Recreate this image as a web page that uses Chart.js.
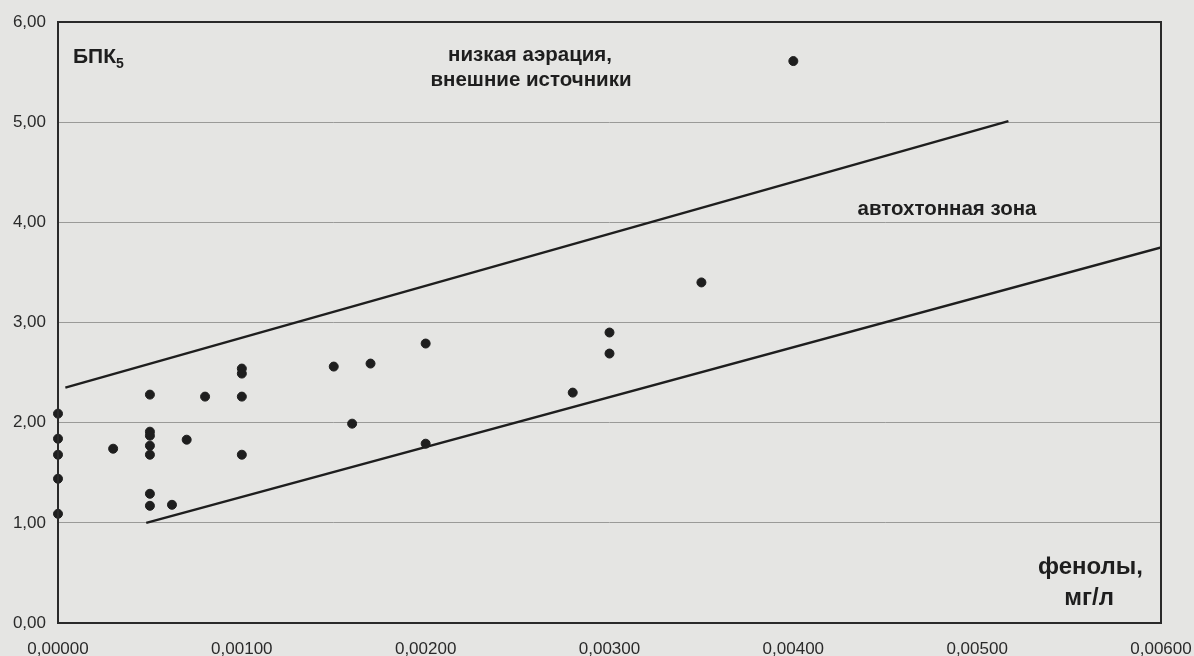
<!DOCTYPE html>
<html>
<head>
<meta charset="utf-8">
<script src="https://cdn.jsdelivr.net/npm/chart.js@4.4.1/dist/chart.umd.min.js"></script>
<style>
  html, body { margin: 0; padding: 0; background: #e5e5e3; }
  #wrap { width: 1194px; height: 656px; }
</style>
</head>
<body>
<div id="wrap"><canvas id="myChart"></canvas></div>
<script>
// фенолы, мг/л
var xValues = [0, 0, 0, 0, 0, 0.0003, 0.0005, 0.0005, 0.0005, 0.0005, 0.0005, 0.0005, 0.0005,
  0.00062, 0.0007, 0.0008, 0.001, 0.001, 0.001, 0.001, 0.0015, 0.0016, 0.0017,
  0.002, 0.002, 0.0028, 0.003, 0.003, 0.0035, 0.004];
// БПК5
var yValues = [2.09, 1.84, 1.68, 1.44, 1.09, 1.74, 2.28, 1.91, 1.87, 1.77, 1.68, 1.29, 1.17,
  1.18, 1.83, 2.26, 2.54, 2.49, 2.26, 1.68, 2.56, 1.99, 2.59,
  2.79, 1.79, 2.30, 2.90, 2.69, 3.40, 5.61];

// граничные линии
var upperX = [0.00004, 0.00517];
var upperY = [2.35, 5.01];
var lowerX = [0.00048, 0.006];
var lowerY = [1.00, 3.75];

var yTicks = [0, 1, 2, 3, 4, 5, 6];
var xTicks = [0, 0.001, 0.002, 0.003, 0.004, 0.005, 0.006];

function toPts(xs, ys) {
  return xs.map(function (x, i) { return {x: x, y: ys[i]}; });
}

var FONT = '"Liberation Sans", Arial, sans-serif';

var labelsPlugin = {
  id: 'labels',
  afterDraw: function (chart) {
    var ctx = chart.ctx;
    var a = chart.chartArea;
    ctx.save();
    // рамка
    ctx.strokeStyle = '#2a2a2a';
    ctx.lineWidth = 2;
    ctx.strokeRect(a.left, a.top, a.right - a.left, a.bottom - a.top);

    ctx.fillStyle = '#1e1e1e';
    ctx.font = 'bold 21px ' + FONT;
    ctx.textBaseline = 'middle';
    ctx.textAlign = 'left';
    ctx.fillText('БПК', 73, 57);
    var w = ctx.measureText('БПК').width;
    ctx.font = 'bold 14px ' + FONT;
    ctx.fillText('5', 73 + w, 64);

    ctx.font = 'bold 20.5px ' + FONT;
    ctx.textAlign = 'center';
    ctx.fillText('низкая аэрация,', 530, 55);
    ctx.fillText('внешние источники', 531, 80);
    ctx.fillText('автохтонная зона', 947, 209);
    ctx.font = 'bold 24px ' + FONT;
    ctx.textAlign = 'right';
    ctx.fillText('фенолы,', 1143, 567);
    ctx.fillText('мг/л', 1114, 598);
    ctx.restore();
  }
};

new Chart('myChart', {
  type: 'scatter',
  data: {
    datasets: [{
      data: toPts(xValues, yValues),
      backgroundColor: '#1e1e1e',
      borderColor: '#1e1e1e',
      pointRadius: 4.5,
      clip: false
    }, {
      type: 'line',
      data: toPts(upperX, upperY),
      borderColor: '#1e1e1e',
      borderWidth: 2.5,
      pointRadius: 0,
      fill: false
    }, {
      type: 'line',
      data: toPts(lowerX, lowerY),
      borderColor: '#1e1e1e',
      borderWidth: 2.5,
      pointRadius: 0,
      fill: false
    }]
  },
  options: {
    responsive: true,
    maintainAspectRatio: false,
    animation: false,
    layout: {padding: {top: 22, right: 33, left: 0, bottom: 0}},
    plugins: {legend: {display: false}, tooltip: {enabled: false}},
    scales: {
      x: {
        type: 'linear',
        min: 0,
        max: 0.006,
        afterBuildTicks: function (s) { s.ticks = xTicks.map(function (v) { return {value: v}; }); },
        afterFit: function (s) { s.height = 33; s.paddingLeft = 0; s.paddingRight = 0; },
        grid: {display: false, drawTicks: false},
        border: {display: false},
        ticks: {
          color: '#2a2a2a',
          padding: 16,
          font: {family: FONT, size: 17},
          maxRotation: 0,
          callback: function (v) { return v.toFixed(5).replace('.', ','); }
        }
      },
      y: {
        min: 0,
        max: 6,
        afterBuildTicks: function (s) { s.ticks = yTicks.map(function (v) { return {value: v}; }); },
        afterFit: function (s) { s.width = 58; s.paddingTop = 0; s.paddingBottom = 0; },
        grid: {color: '#9a9a98', lineWidth: 1, drawTicks: false},
        border: {display: false},
        ticks: {
          color: '#2a2a2a',
          padding: 12,
          font: {family: FONT, size: 17},
          callback: function (v) { return v.toFixed(2).replace('.', ','); }
        }
      }
    }
  },
  plugins: [labelsPlugin]
});
</script>
</body>
</html>
